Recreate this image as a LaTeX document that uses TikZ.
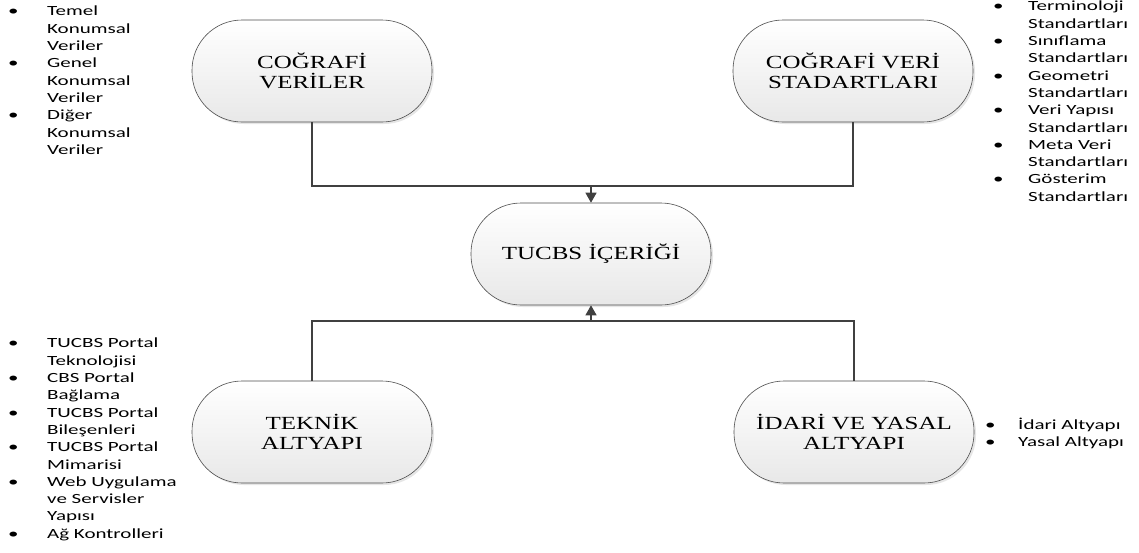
\documentclass[tikz,border=0pt]{standalone}
\usepackage{fontspec}
\setmainfont{Liberation Serif}[FakeStretch=1.35]
\newfontfamily\listfont{Carlito}[FakeStretch=1.5]
\usetikzlibrary{arrows.meta,shadows,positioning}
\newcommand{\madde}[2]{\makebox[#1][l]{\textbullet}#2}
\newcommand{\devam}[2]{\hspace*{#1}#2}
\tikzset{
  konu/.style={draw=black!70, line width=0.6pt, rounded corners=50pt, minimum width=240pt, minimum height=102pt, top color=white, bottom color=black!9, drop shadow={opacity=0.2, shadow xshift=2pt, shadow yshift=-2pt}, align=center, inner sep=0pt, font=\fontsize{18.5}{20.5}\selectfont},
  liste/.style={anchor=north west, inner sep=0pt, align=left, font=\listfont\fontsize{14}{17.3}\selectfont},
  hat/.style={draw=black!75, line width=1.3pt},
  ok/.style={hat, -{Triangle[width=11pt,length=10pt]}}
}
\begin{document}
\begin{tikzpicture}[x=1pt,y=-1pt]
\useasboundingbox (0,0) rectangle (1139,552);
\node[konu] (veri) at (312,71) {COĞRAFİ\\VERİLER};
\node[konu] (standart) at (853,71) {COĞRAFİ VERİ\\STADARTLARI};
\node[konu] (icerik) at (591,254) {TUCBS İÇERİĞİ};
\node[konu] (teknik) at (312,432) {TEKNİK\\ALTYAPI};
\node[konu] (idari) at (854,432) {İDARİ VE YASAL\\ALTYAPI};

\coordinate (ustcizgi) at (591,186);
\coordinate (altcizgi) at (591,321);
\draw[hat] (veri.south) |- (ustcizgi) -| (standart.south);
\draw[ok] (ustcizgi) -- (icerik.north);
\draw[hat] (teknik.north) |- (altcizgi) -| (idari.north);
\draw[ok] (altcizgi) -- (icerik.south);

\node[liste] (veriliste) at (8,6) {\madde{39pt}{Temel}\\\devam{39pt}{Konumsal}\\\devam{39pt}{Veriler}\\
  \madde{39pt}{Genel}\\\devam{39pt}{Konumsal}\\\devam{39pt}{Veriler}\\
  \madde{39pt}{Diğer}\\\devam{39pt}{Konumsal}\\\devam{39pt}{Veriler}};
\node[liste] (standartliste) at (993,1) {\madde{35pt}{Terminoloji}\\\devam{35pt}{Standartları}\\
  \madde{35pt}{Sınıflama}\\\devam{35pt}{Standartları}\\
  \madde{35pt}{Geometri}\\\devam{35pt}{Standartları}\\
  \madde{35pt}{Veri Yapısı}\\\devam{35pt}{Standartları}\\
  \madde{35pt}{Meta Veri}\\\devam{35pt}{Standartları}\\
  \madde{35pt}{Gösterim}\\\devam{35pt}{Standartları}};
\node[liste] (teknikliste) at (8,338) {\madde{39pt}{TUCBS Portal}\\\devam{39pt}{Teknolojisi}\\
  \madde{39pt}{CBS Portal}\\\devam{39pt}{Bağlama}\\
  \madde{39pt}{TUCBS Portal}\\\devam{39pt}{Bileşenleri}\\
  \madde{39pt}{TUCBS Portal}\\\devam{39pt}{Mimarisi}\\
  \madde{39pt}{Web Uygulama}\\\devam{39pt}{ve Servisler}\\\devam{39pt}{Yapısı}\\
  \madde{39pt}{Ağ Kontrolleri}};
\node[liste] (idariliste) at (985,418) {\madde{33pt}{İdari Altyapı}\\\madde{33pt}{Yasal Altyapı}};
\end{tikzpicture}
\end{document}
